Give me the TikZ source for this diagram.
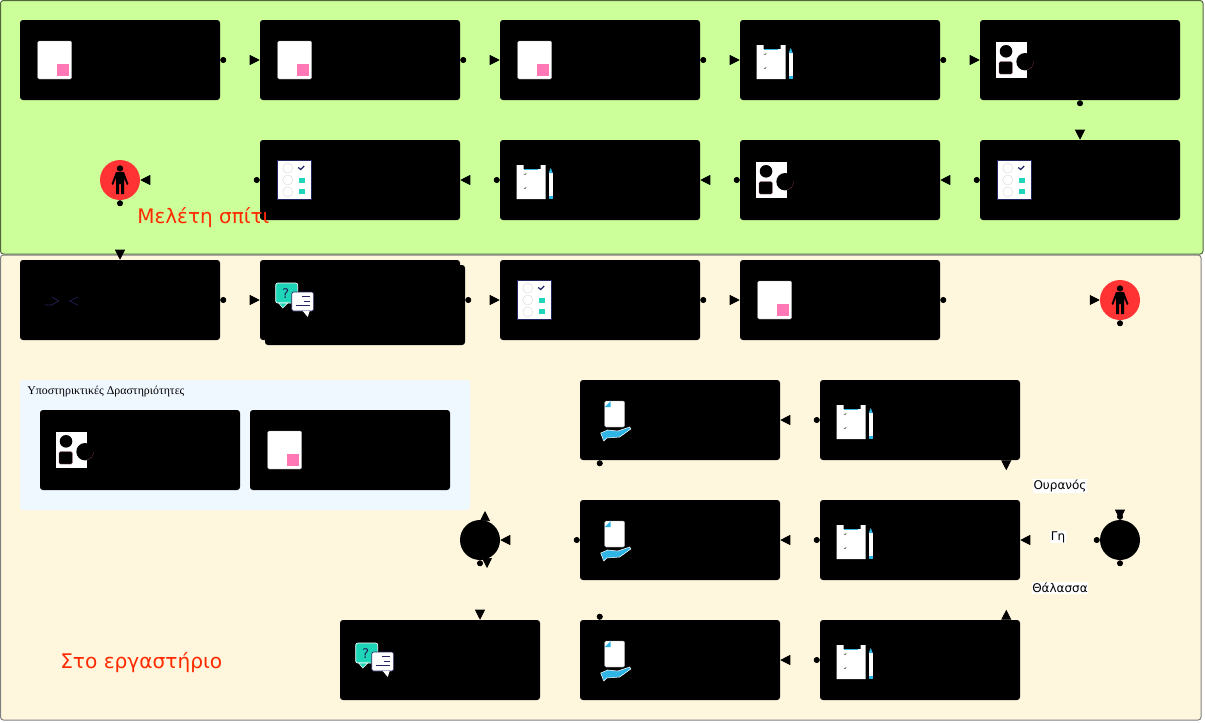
\documentclass[tikz,border=0pt]{standalone}
\usepackage{fontspec}
\setmainfont{DejaVu Sans}
\newfontfamily\supportfont{Liberation Serif}
\usetikzlibrary{arrows.meta,positioning,calc,backgrounds}

\definecolor{panelGreen}{HTML}{CCFF99}
\definecolor{panelCream}{HTML}{FFF7DD}
\definecolor{panelBlue}{HTML}{EFF7FF}
\definecolor{manRed}{HTML}{FF3333}
\definecolor{titleRed}{HTML}{FF2A00}
\definecolor{markPink}{HTML}{FF77B4}
\definecolor{markTeal}{HTML}{1DD6B8}
\definecolor{markBlue}{HTML}{2FB4E6}
\definecolor{markNavy}{HTML}{23235F}

\tikzset{
	card/.style={fill=black, rounded corners=2.2pt, minimum width=150pt, minimum height=60pt, inner sep=0pt},
	manDisc/.style={circle, fill=manRed, minimum size=30pt, inner sep=0pt},
	joinDisc/.style={circle, fill=black, minimum size=30pt, inner sep=0pt},
	panel/.style={rounded corners=2.2pt, line width=0.75pt},
	link/.style={line width=0.5pt, {Circle[color=black,length=4.5pt]}-{Triangle[color=black,length=7.5pt,width=7.5pt]}},
	greenLink/.style={link, panelGreen},
	creamLink/.style={link, panelCream},
	branchLabel/.style={fill=white, inner sep=0.5pt, font=\fontsize{9pt}{11pt}\selectfont},
	docicon/.pic={
		\fill[white, draw=gray!70, rounded corners=1pt, line width=0.3pt] (18,-19) rectangle (52,19);
		\fill[markPink] (37,4) rectangle (49,16);
	},
	clipicon/.pic={
		\fill[white] (17,-15) -- (24,-15) -- (24,-11) -- (41,-11) -- (41,-15) -- (46,-15) -- (46,19) -- (17,19) -- cycle;
		\fill[markBlue] (24,-11) rectangle (38,-10);
		\draw[line width=0.3pt] (24,-6) -- (25.5,-5.5) -- (26.5,-7);
		\draw[line width=0.3pt] (24,8) -- (25.5,8.5) -- (26.5,7);
		\fill[white] (49,-7) rectangle (53,16);
		\fill[markBlue] (49,-7) -- (51,-12) -- (53,-7) -- cycle;
		\fill[markBlue] (49,16) rectangle (53,19);
	},
	shapeicon/.pic={
		\fill[white] (16,-18) rectangle (47,18);
		\fill[black] (26.3,-8.7) circle[radius=6.3];
		\fill[black, draw=markPink!60!black, line width=0.15pt, rounded corners=1pt] (19.3,1.7) rectangle (32.7,14);
		\fill[black] (45.3,1.7) circle[radius=8.7];
		\draw[markPink!60!black, line width=0.15pt] (53.8,1.7) arc[start angle=0, end angle=75, radius=8.5];
	},
	surveyicon/.pic={
		\fill[white, draw=markNavy, line width=0.6pt] (18,-20) rectangle (52,19);
		\draw[gray!25, line width=0.4pt] (28,-12) circle[radius=5];
		\draw[gray!25, line width=0.4pt] (28,0) circle[radius=5];
		\draw[gray!25, line width=0.4pt] (28,12) circle[radius=5];
		\draw[markNavy, line width=0.9pt] (38.5,-12.5) -- (41,-10.5) -- (44.5,-14);
		\fill[markTeal] (39.5,-2.5) rectangle (45,2.5);
		\fill[markTeal] (39.5,9) rectangle (45,14);
	},
	chaticon/.pic={
		\fill[markTeal, draw=white, rounded corners=1.5pt, line width=0.5pt] (16,-17) rectangle (38,3);
		\fill[markTeal, draw=white, line width=0.4pt] (19,3) -- (23,8) -- (28,3) -- cycle;
		\node[markNavy, font=\fontsize{10pt}{11pt}\selectfont] (chatMark) at (26,-6) {?};
		\fill[white, draw=markNavy, rounded corners=1.5pt, line width=0.5pt] (32,-8) rectangle (54,11);
		\fill[white] (43,11) -- (48,17) -- (50,11) -- cycle;
		\draw[markNavy, line width=0.5pt] (42,-3.5) -- (50,-3.5);
		\draw[markNavy, line width=0.5pt] (44,1) -- (50,1);
		\draw[markNavy, line width=0.5pt] (36,5.5) -- (50,5.5);
	},
	handicon/.pic={
		\fill[white, draw=gray!70, rounded corners=1pt, line width=0.3pt] (25,-19) rectangle (45,7);
		\fill[markBlue] (25,-13) -- (31,-19) -- (31,-13) -- cycle;
		\fill[markBlue, draw=white, line width=0.4pt] (21,13) -- (28,10) -- (38,11) -- (50,7) -- (51,9) -- (40,17) -- (27,18) -- (24,21) -- cycle;
	},
	manicon/.pic={
		\fill[black] (0,-11.5) circle[radius=3.2];
		\fill[black] (-4,-8) -- (4,-8) -- (8.5,4) -- (7,5) -- (4,-2) -- (4,14) -- (1,14) -- (1,4) -- (-1,4) -- (-1,14) -- (-4,14) -- (-4,-2) -- (-7,5) -- (-8.5,4) -- cycle;
	},
	faceicon/.pic={
		\draw[markNavy, line width=0.5pt] (25,5) -- (32,5) -- (39,1) -- (32,-3);
		\draw[markNavy, line width=0.5pt] (58,-3) -- (50,1) -- (58,5);
	}
}

\begin{document}
\begin{tikzpicture}[x=0.75pt, y=-0.75pt]
	\useasboundingbox (0,0) rectangle (1205,722);

	% erste Reihe
	\node[card] (topA) at (120,60) {};
	\node[card] (topB) at (360,60) {};
	\node[card] (topC) at (600,60) {};
	\node[card] (topD) at (840,60) {};
	\node[card] (topE) at (1080,60) {};
	% zweite Reihe
	\node[card] (homeD) at (1080,180) {};
	\node[card] (homeC) at (840,180) {};
	\node[card] (homeB) at (600,180) {};
	\node[card] (homeA) at (360,180) {};
	\node[manDisc] (manHome) at (120,180) {};
	% dritte Reihe
	\node[card] (labFace) at (120,300) {};
	\node[card] (labBack) at (365,305) {};
	\node[card] (labChat) at (360,300) {};
	\node[card] (labSurvey) at (600,300) {};
	\node[card] (labDoc) at (840,300) {};
	\node[manDisc] (manLab) at (1120,300) {};
	% Verzweigung
	\node[joinDisc] (joinRight) at (1120,540) {};
	\node[joinDisc] (joinLeft) at (480,540) {};
	\node[card] (skyClip) at (920,420) {};
	\node[card] (skyHand) at (680,420) {};
	\node[card] (earthClip) at (920,540) {};
	\node[card] (earthHand) at (680,540) {};
	\node[card] (seaClip) at (920,660) {};
	\node[card] (seaHand) at (680,660) {};
	\node[card] (endChat) at (440,660) {};
	% Kasten links
	\node[card] (extraShape) at (140,450) {};
	\node[card] (extraDoc) at (350,450) {};

	\pic at (topA.west) {docicon};
	\pic at (topB.west) {docicon};
	\pic at (topC.west) {docicon};
	\pic at (topD.west) {clipicon};
	\pic at (topE.west) {shapeicon};
	\pic at (homeD.west) {surveyicon};
	\pic at (homeC.west) {shapeicon};
	\pic at (homeB.west) {clipicon};
	\pic at (homeA.west) {surveyicon};
	\pic at (manHome) {manicon};
	\pic at (labFace.west) {faceicon};
	\pic at (labChat.west) {chaticon};
	\pic at (labSurvey.west) {surveyicon};
	\pic at (labDoc.west) {docicon};
	\pic at (manLab) {manicon};
	\pic at (skyClip.west) {clipicon};
	\pic at (skyHand.west) {handicon};
	\pic at (earthClip.west) {clipicon};
	\pic at (earthHand.west) {handicon};
	\pic at (seaClip.west) {clipicon};
	\pic at (seaHand.west) {handicon};
	\pic at (endChat.west) {chaticon};
	\pic at (extraShape.west) {shapeicon};
	\pic at (extraDoc.west) {docicon};

	\begin{scope}[on background layer]
		\fill[white] (0,0) rectangle (1205,722);
		\draw[panel, fill=panelGreen, draw=black!60!panelGreen] (0.5,0.5) rectangle (1203,254);
		\draw[panel, fill=panelCream, draw=gray] (0.5,255) rectangle (1201,720);
		\fill[panelBlue, rounded corners=2.2pt] (20,380) rectangle (470,510);

		\draw[greenLink] (topA.east) -- (topB.west);
		\draw[greenLink] (topB.east) -- (topC.west);
		\draw[greenLink] (topC.east) -- (topD.west);
		\draw[greenLink] (topD.east) -- (topE.west);
		\draw[greenLink] (topE.south) -- (homeD.north);
		\draw[greenLink] (homeD.west) -- (homeC.east);
		\draw[greenLink] (homeC.west) -- (homeB.east);
		\draw[greenLink] (homeB.west) -- (homeA.east);
		\draw[greenLink] (homeA.west) -- (manHome.east);
		\draw[greenLink] (manHome.south) -- (labFace.north);

		\draw[creamLink] (labFace.east) -- (labChat.west);
		\draw[creamLink] (labBack.east |- labChat.east) -- (labSurvey.west);
		\draw[creamLink] (labSurvey.east) -- (labDoc.west);
		\draw[creamLink] (labDoc.east) -- (manLab.west);

		\draw[creamLink] (joinRight.north) |- ($(skyClip.south east)+(-14,25)$) -- ($(skyClip.south east)+(-14,-10)$) -- ($(skyClip.south east)+(-14,10)$);
		\draw[creamLink] (joinRight.west) -- (earthClip.east);
		\draw[creamLink] (joinRight.south) |- ($(seaClip.north east)+(-14,-32)$) -- ($(seaClip.north east)+(-14,10)$) -- ($(seaClip.north east)+(-14,-10)$);
		\draw[creamLink] (manLab.south) -- (joinRight.north); %nach der Verzweigung, sonst fehlt die Spitze

		\draw[creamLink] (skyClip.west) -- (skyHand.east);
		\draw[creamLink] (earthClip.west) -- (earthHand.east);
		\draw[creamLink] (seaClip.west) -- (seaHand.east);

		\draw[creamLink] ($(skyHand.south west)+(20,0)$) |- ($(joinLeft)+(5,-10)$) -- ($(joinLeft)+(5,-29)$);
		\draw[creamLink] (earthHand.west) -- (joinLeft.east);
		\draw[creamLink] ($(seaHand.north west)+(20,0)$) |- ($(joinLeft)+(7,10)$) -- ($(joinLeft)+(7,28)$);
		\draw[creamLink] (joinLeft.south) -- (joinLeft.south |- endChat.north);
	\end{scope}

	\node[branchLabel] (labelSky) at (1060,486) {Ουρανός};
	\node[branchLabel] (labelEarth) at (1058,537) {Γη};
	\node[branchLabel] (labelSea) at (1060,588) {Θάλασσα};

	\node[anchor=west, inner sep=0pt, font=\supportfont\fontsize{8.9pt}{10pt}\selectfont] (extraTitle) at (27,392) {Υποστηρικτικές Δραστηριότητες};
	\node[titleRed, anchor=west, inner sep=0pt, font=\fontsize{15pt}{16pt}\selectfont] (homeTitle) at (137,218) {Μελέτη σπίτι};
	\node[titleRed, anchor=west, inner sep=0pt, font=\fontsize{15.1pt}{16pt}\selectfont] (labTitle) at (60,663) {Στο εργαστήριο};
\end{tikzpicture}
\end{document}
